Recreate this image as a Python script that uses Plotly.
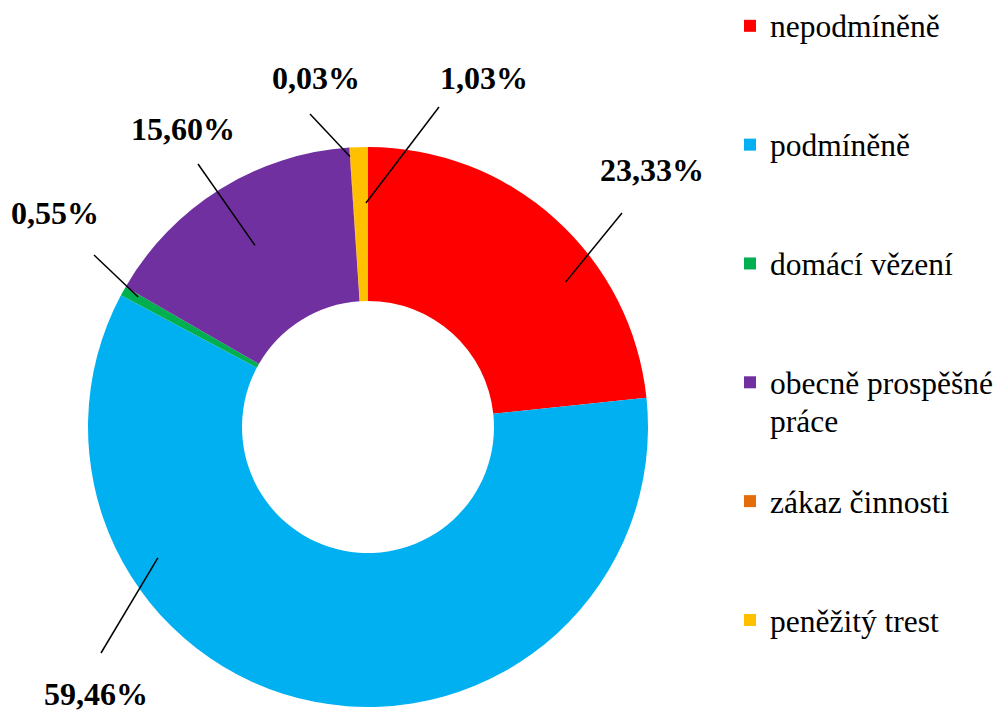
import math
import plotly.graph_objects as go

# ---- data ----
categories = ["nepodmíněně", "podmíněně", "domácí vězení",
              "obecně prospěšné práce", "zákaz činnosti", "peněžitý trest"]
values = [23.33, 59.46, 0.55, 15.60, 0.03, 1.03]

# ---- styles / layout ----
colors = ["#FF0000", "#00B0F0", "#00B050", "#7030A0", "#E46C0A", "#FFC000"]
W, H = 999, 715
CX, CY, R = 368, 427, 280
HOLE = 0.45
FONT = "Liberation Serif"
LEG_TEXT_SIZE = 31.5

# legend label layout: the category wrapped where the original wraps,
# padded with blank lines to spread the items like the original
legend_lines = [["nepodmíněně"], ["podmíněně"], ["domácí vězení"],
                ["obecně prospěšné", "práce"], ["zákaz činnosti"], ["peněžitý trest"]]
LEG_LINES_PER_ITEM = 3


def legend_label(lines):
    shown = [f"<span style='font-size:{LEG_TEXT_SIZE}px'>{s}</span>" for s in lines]
    shown += [" "] * (LEG_LINES_PER_ITEM - len(lines))
    return "<br>".join(shown)


legend_labels = [legend_label(l) for l in legend_lines]

# data-label placement: text centre (px), leader start (px),
# leader tip as (fraction within slice, radius fraction)
label_pos = [(652, 170), (96, 694), (54.5, 213), (183, 129.5), (316, 78), (484, 78)]
leader_start = [(622, 213), (101, 653), (94, 255), (198, 164), (310, 114), (439, 107)]
leader_tip = [(0.64, 0.875), (0.72, 0.884), (0.73, 0.943), (0.50, 0.764), (0.0, 0.968), (0.86, 0.80)]


def px2paper(x, y):
    return x / W, 1 - y / H


fig = go.Figure(go.Pie(
    labels=legend_labels,
    values=values,
    marker=dict(colors=colors, line=dict(width=0)),
    hole=HOLE,
    sort=False,
    direction="clockwise",
    rotation=0,
    textinfo="none",
    hoverinfo="skip",
    domain=dict(x=[(CX - R) / W, (CX + R) / W],
                y=[1 - (CY + R) / H, 1 - (CY - R) / H]),
))

total = sum(values)
cum = 0.0
shapes = []
annotations = []
for i, v in enumerate(values):
    a0 = cum / total * 360
    a1 = (cum + v) / total * 360
    cum += v
    t, rf = leader_tip[i]
    ang = math.radians(a0 + t * (a1 - a0))
    tx = CX + rf * R * math.sin(ang)
    ty = CY - rf * R * math.cos(ang)
    sx, sy = leader_start[i]
    x0, y0 = px2paper(sx, sy)
    x1, y1 = px2paper(tx, ty)
    shapes.append(dict(type="line", xref="paper", yref="paper",
                       x0=x0, y0=y0, x1=x1, y1=y1,
                       line=dict(color="black", width=1.5)))
    lx, ly = px2paper(*label_pos[i])
    annotations.append(dict(
        x=lx, y=ly, xref="paper", yref="paper", showarrow=False,
        text="<b>" + f"{v:.2f}".replace(".", ",") + "%</b>",
        font=dict(family=FONT, size=32, color="black"),
        xanchor="center", yanchor="middle"))

fig.update_layout(
    width=W, height=H,
    margin=dict(l=0, r=0, t=0, b=0),
    paper_bgcolor="white", plot_bgcolor="white",
    font=dict(family=FONT),
    showlegend=True,
    legend=dict(x=0.731, y=1.0, xanchor="left", yanchor="top",
                font=dict(family=FONT, size=29.7, color="black"),
                valign="top", bgcolor="rgba(0,0,0,0)",
                itemclick=False, itemdoubleclick=False),
    shapes=shapes,
    annotations=annotations,
)

fig.write_html("out.html", config={"displayModeBar": False},
               post_script="document.body.style.margin='0';document.body.style.overflow='hidden';")
